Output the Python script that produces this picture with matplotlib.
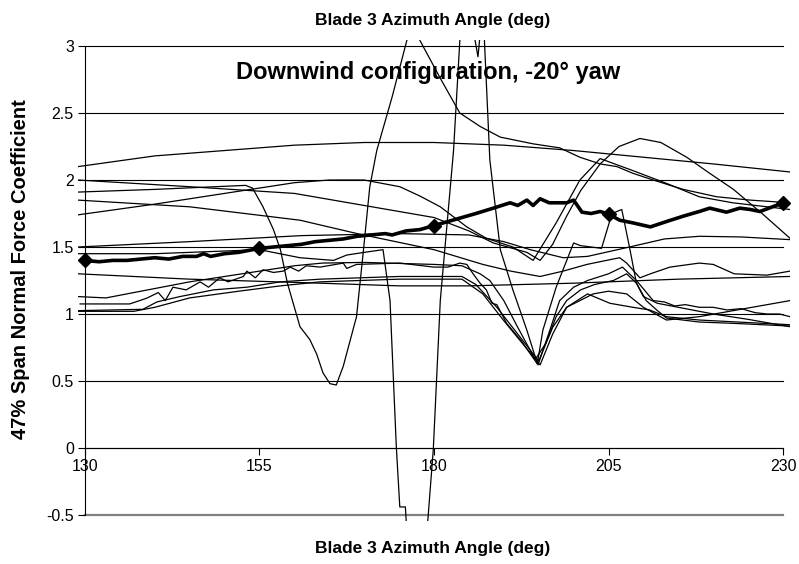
import matplotlib
matplotlib.use("Agg")
import matplotlib.pyplot as plt

plt.rcParams['font.family'] = ['Liberation Sans', 'DejaVu Sans']

# tick values
x_ticks = [130, 155, 180, 205, 230]
y_ticks = [-0.5, 0, 0.5, 1, 1.5, 2, 2.5, 3]
y_tick_labels = ["-0.5", "0", "0.5", "1", "1.5", "2", "2.5", "3"]

# mean curve (thick, diamonds every 25 deg)
mean_x = [130, 132, 134, 136, 138, 140, 142, 144, 146, 147, 148, 150, 152, 154, 155,
          157, 159, 161, 163, 165, 167, 169, 171, 173, 174, 176, 178, 180, 182, 184,
          186, 188.5, 190.9, 192, 193.3, 194.2, 195.2, 196.5, 199, 200, 201.2, 202.5,
          203.8, 205, 206.6, 208.5, 211, 213.3, 215.7, 218, 219.5, 221.9, 223.8, 225.3,
          226.7, 228.5, 230]
mean_y = [1.40, 1.39, 1.40, 1.40, 1.41, 1.42, 1.41, 1.43, 1.43, 1.45, 1.43, 1.45, 1.46, 1.48, 1.49,
          1.50, 1.51, 1.52, 1.54, 1.55, 1.56, 1.58, 1.59, 1.60, 1.59, 1.62, 1.63, 1.66, 1.69, 1.72,
          1.75, 1.79, 1.83, 1.81, 1.85, 1.81, 1.86, 1.83, 1.83, 1.85, 1.76, 1.75,
          1.765, 1.746, 1.70, 1.68, 1.65, 1.69, 1.73, 1.765, 1.79, 1.76, 1.79, 1.78,
          1.765, 1.80, 1.83]
marker_x = [130, 155, 180, 205, 230]
marker_y = [1.40, 1.49, 1.66, 1.746, 1.83]

# individual cycles (thin lines)
a_x = [129, 140, 150, 160, 170, 180, 190, 200, 210, 220, 231]
a_y = [2.10, 2.18, 2.22, 2.26, 2.28, 2.28, 2.26, 2.22, 2.17, 2.12, 2.06]

b_x = [129, 145, 160, 170, 180, 185, 188.5, 193.3, 195.2, 197, 199, 201, 203.8, 206.5,
       209.5, 212.5, 216.2, 219.5, 222.9, 227, 231]
b_y = [2.00, 1.95, 1.90, 1.81, 1.72, 1.62, 1.53, 1.46, 1.40, 1.52, 1.73, 1.92, 2.12, 2.25,
       2.31, 2.28, 2.17, 2.05, 1.93, 1.75, 1.565]

c_x = [129, 140, 153, 154, 155.5, 157, 158, 159, 160.8, 162.2, 163.2, 164.1, 165.1, 166,
       167, 168.9, 169.9, 170.8, 171.8, 174, 176.1, 177, 178, 181, 183.7, 186.6, 189.5,
       194.2, 198, 200.9, 203.8, 206.2, 208.5, 211.4, 215.7, 220.5, 225.3, 231]
c_y = [1.91, 1.93, 1.96, 1.94, 1.80, 1.63, 1.48, 1.23, 0.905, 0.81, 0.70, 0.56, 0.48, 0.47,
       0.61, 0.98, 1.48, 1.95, 2.22, 2.62, 3.04, 3.22, 3.04, 2.75, 2.50, 2.40, 2.32,
       2.27, 2.24, 2.17, 2.12, 2.10, 2.05, 2.00, 1.93, 1.875, 1.85, 1.83]

e_x = [129, 145, 160.8, 169, 180, 187, 191, 195.2, 198.5, 201.9, 204.7, 206.6, 207.6,
       209.5, 211, 213.8, 218, 220, 223, 227.7, 231]
e_y = [1.85, 1.80, 1.70, 1.60, 1.48, 1.37, 1.32, 1.28, 1.32, 1.37, 1.40, 1.42, 1.38,
       1.27, 1.30, 1.35, 1.38, 1.37, 1.30, 1.29, 1.32]

f_x = [129, 140, 150, 160, 165, 170, 175.1, 178, 180.9, 184.7, 187.5, 191.3, 194.2,
       197.5, 200.9, 203.8, 208.5, 213.3, 218, 222.8, 231]
f_y = [1.74, 1.82, 1.90, 1.98, 2.00, 2.00, 1.95, 1.88, 1.80, 1.65, 1.565, 1.50, 1.40,
       1.68, 2.00, 2.16, 2.07, 1.975, 1.875, 1.83, 1.78]

g_x = [129, 145, 161, 175, 185, 190, 193.8, 198.5, 202, 208, 213, 218, 224, 231]
g_y = [1.50, 1.54, 1.585, 1.60, 1.59, 1.54, 1.48, 1.42, 1.43, 1.50, 1.56, 1.58, 1.575, 1.555]

# cycle with the deep plunge and spike
d_x = [129, 140, 150, 155, 160.8, 165.6, 167.5, 170, 172.7, 173.7, 174.6, 175.1, 175.9,
       176.3, 178.5, 179.1, 179.9, 180.9, 182.8, 183.7, 185, 186.3, 187, 188, 189.5,
       191.3, 193.3, 194.8, 195.6, 197.5, 200, 201, 204, 205.5, 206.9, 208, 209, 210,
       212, 215, 220, 225, 231]
d_y = [1.45, 1.45, 1.47, 1.48, 1.42, 1.40, 1.44, 1.46, 1.48, 1.10, 0.01, -0.44, -0.44,
       -0.80, -0.80, -0.55, -0.01, 1.10, 2.22, 3.04, 3.30, 2.92, 3.30, 2.15, 1.48,
       1.18, 0.88, 0.63, 0.88, 1.20, 1.53, 1.51, 1.49, 1.75, 1.78, 1.50, 1.23, 1.13,
       1.08, 1.05, 1.00, 0.96, 0.905]

i_x = [129, 145, 163.7, 175, 185, 200, 215, 231]
i_y = [1.30, 1.26, 1.23, 1.21, 1.21, 1.23, 1.26, 1.28]

j_x = [129, 133, 145, 160, 164, 170, 180, 184, 186.6, 188, 190, 192, 194.5, 196, 197.5,
       199, 201, 203, 205.7, 207.6, 209, 210.4, 211.9, 213.3, 218, 223, 231]
j_y = [1.13, 1.12, 1.24, 1.36, 1.38, 1.385, 1.37, 1.36, 1.30, 1.25, 1.10, 0.90, 0.66, 0.78, 0.98,
       1.10, 1.18, 1.22, 1.25, 1.30, 1.23, 1.10, 1.03, 0.97, 0.94, 0.93, 0.91]

k_x = [129.3, 136.4, 138.8, 140.5, 141.5, 142.6, 144.5, 146.5, 147.7, 149.3, 150.5, 152.7,
       153.2, 154.4, 155.5, 157, 158.4, 159.4, 160.6, 161.7, 163.7, 167, 167.5, 168.9,
       175.1, 180, 182, 183.7, 184.7, 185.6, 186.6, 187.5, 188.3, 189, 190.4, 192.5,
       194.9, 196.6, 198, 200, 202, 205, 207, 209, 211.4, 213, 214.5, 216, 218, 220,
       222, 224, 226, 227.7, 229.5, 231]
k_y = [1.075, 1.075, 1.117, 1.16, 1.10, 1.20, 1.18, 1.24, 1.20, 1.27, 1.24, 1.28,
       1.32, 1.27, 1.33, 1.31, 1.32, 1.35, 1.32, 1.36, 1.35, 1.38, 1.34, 1.37,
       1.38, 1.35, 1.35, 1.38, 1.37, 1.30, 1.23, 1.18, 1.08, 1.07, 0.93, 0.80,
       0.62, 0.88, 1.10, 1.20, 1.25, 1.30, 1.35, 1.25, 1.10, 1.09, 1.06, 1.07, 1.05, 1.05,
       1.03, 1.04, 1.01, 1.00, 1.00, 0.98]

l_x = [129, 138.3, 140.3, 143.6, 148.4, 153.2, 158, 163.7, 175, 184, 186, 189, 192,
       195, 197, 199, 202.8, 205, 207.6, 210, 213.3, 218, 231]
l_y = [1.025, 1.035, 1.09, 1.13, 1.18, 1.20, 1.24, 1.26, 1.28, 1.28, 1.22, 1.05, 0.85,
       0.65, 0.90, 1.05, 1.15, 1.17, 1.15, 1.05, 0.955, 0.98, 1.10]

m_x = [129, 137, 140, 145, 152, 158, 163.7, 175, 184, 187, 190, 195.2, 197, 199, 202,
       205.2, 208.5, 210.9, 213.3, 218, 231]
m_y = [1.02, 1.02, 1.05, 1.12, 1.17, 1.21, 1.24, 1.26, 1.26, 1.15, 0.95, 0.62, 0.85, 1.05,
       1.15, 1.08, 1.05, 1.03, 0.98, 0.955, 0.92]

cycles = [(a_x, a_y), (b_x, b_y), (c_x, c_y), (d_x, d_y), (e_x, e_y), (f_x, f_y),
          (g_x, g_y), (i_x, i_y), (j_x, j_y), (k_x, k_y), (l_x, l_y), (m_x, m_y)]

fig = plt.figure(figsize=(7.99, 5.64), dpi=100)
ax = fig.add_axes([78 / 799, 1 - 521 / 564, (790 - 78) / 799, (521 - 40) / 564])
ax.set_xlim(129, 231)
ax.set_ylim(-0.545, 3.045)

# horizontal gridlines between 130 and 230
for yv in y_ticks:
    if yv == -0.5:
        ax.plot([130, 230], [yv, yv], color="#808080", linewidth=1.6, zorder=1)
    else:
        ax.plot([130, 230], [yv, yv], color="black", linewidth=0.8, zorder=1)

for cx, cy in cycles:
    ax.plot(cx, cy, color="black", linewidth=0.9, zorder=3)

ax.plot(mean_x, mean_y, color="black", linewidth=2.6, zorder=4)
ax.plot(marker_x, marker_y, linestyle="none", marker="D", markersize=7,
        color="black", zorder=5)

for side in ["top", "right"]:
    ax.spines[side].set_visible(False)
ax.spines["left"].set_position(("data", 130))
ax.spines["left"].set_bounds(-0.5, 3)
ax.spines["bottom"].set_position(("data", 0))
ax.spines["bottom"].set_bounds(130, 230)
ax.spines["left"].set_linewidth(0.8)
ax.spines["bottom"].set_linewidth(0.8)

ax.set_xticks(x_ticks)
ax.set_xticklabels([str(v) for v in x_ticks], fontsize=11.5)
ax.set_yticks(y_ticks)
ax.set_yticklabels(y_tick_labels, fontsize=11.5)
ax.tick_params(axis="both", direction="out", length=5, width=0.8, pad=3)

fig.text(0.536, 0.872, "Downwind configuration, -20° yaw",
         fontsize=17, fontweight="bold", ha="center", va="center")
fig.text(0.542, 0.9645, "Blade 3 Azimuth Angle (deg)", fontsize=12.5, fontweight="bold",
         ha="center", va="center")
fig.text(0.542, 0.028, "Blade 3 Azimuth Angle (deg)", fontsize=12.5, fontweight="bold",
         ha="center", va="center")
fig.text(0.026, 0.522, "47% Span Normal Force Coefficient", fontsize=14.5, fontweight="bold",
         ha="center", va="center", rotation=90)

fig.savefig("out.png", dpi=100)
